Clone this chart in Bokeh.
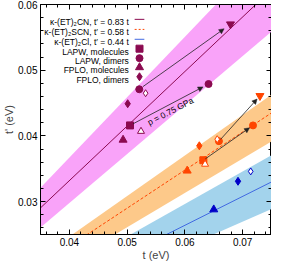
import math
from bokeh.plotting import figure
from bokeh.models import Range1d, FixedTicker, LinearAxis, Label, Arrow, NormalHead
from bokeh.embed import file_html
from bokeh.resources import INLINE

# ---------------- data ----------------
x_ticks = [0.04, 0.05, 0.06, 0.07]
y_ticks = [0.03, 0.04, 0.05, 0.06]
x_minor = [0.036, 0.038, 0.042, 0.044, 0.046, 0.048, 0.052, 0.054, 0.056, 0.058,
           0.062, 0.064, 0.066, 0.068, 0.072, 0.074]
y_minor = [0.026, 0.028, 0.032, 0.034, 0.036, 0.038, 0.042, 0.044, 0.046, 0.048,
           0.052, 0.054, 0.056, 0.058]
x_lim = [0.035, 0.075]
y_lim = [0.025, 0.06]

salts = ["κ-(ET)₂CN", "κ-(ET)₂SCN", "κ-(ET)₂Cl"]
slopes = [0.83, 0.58, 0.44]
band_lo = [0.745, 0.522, 0.385]
band_hi = [0.918, 0.617, 0.494]

methods = ["LAPW, molecules", "LAPW, dimers", "FPLO, molecules", "FPLO, dimers"]

# ambient-pressure results (LAPW mol, LAPW dim, FPLO mol, FPLO dim)
cn_t = [0.0505, 0.0521, 0.0493, 0.0501]
cn_tp = [0.0416, 0.0471, 0.0394, 0.0449]
scn_t = [0.0632, 0.0659, 0.0604, 0.0625]
scn_tp = [0.0363, 0.0392, 0.0347, 0.0385]
cl_t = [None, None, 0.0650, 0.0692]
cl_tp = [None, None, 0.0288, 0.0331]

# alternative (open symbols): FPLO molecules, FPLO dimers
cn_open_t = [0.0524, 0.0532]
cn_open_tp = [0.0407, 0.0465]
scn_open_t = [0.0635, 0.0656]
scn_open_tp = [0.0357, 0.0395]
cl_open_t = [None, 0.0714]
cl_open_tp = [None, 0.0346]

# under pressure p = 0.75 GPa (LAPW molecules -> circle, LAPW dimers -> down triangle)
cn_p_t = [0.0641, 0.0679]
cn_p_tp = [0.0479, 0.0570]
scn_p_t = [0.0718, 0.0730]
scn_p_tp = [0.0416, 0.0461]

pressure_label = "p = 0.75 GPa"

# ---------------- style ----------------
line_cols = ["#8b0a50", "#ff4500", "#4169e1"]
mark_cols = ["#8b0a50", "#ff4500", "#0000c8"]
band_cols = ["#f9a3f9", "#fdc98a", "#a3d3ec"]
markers = ["square", "circle", "triangle", "diamond"]
msizes = [7, 7, 8, 8]
FONT = "Liberation Sans"

p = figure(width=271, height=263, output_backend="svg", toolbar_location=None,
           x_range=Range1d(*x_lim), y_range=Range1d(*y_lim),
           min_border_left=30, min_border_right=0, min_border_top=4, min_border_bottom=0)
p.grid.visible = False
p.outline_line_color = "black"
p.outline_line_width = 1
p.background_fill_color = "white"

def style_axis(ax, labels=True):
    ax.major_tick_in = 5
    ax.major_tick_out = 0
    ax.minor_tick_in = 3
    ax.minor_tick_out = 0
    ax.axis_line_color = "black"
    ax.major_tick_line_color = "black"
    ax.minor_tick_line_color = "black"
    ax.major_label_text_font = FONT
    if labels:
        ax.major_label_text_font_size = "10px"
        ax.major_label_text_color = "black"
        ax.major_label_standoff = 3
    else:
        ax.major_label_text_font_size = "0px"
        ax.major_label_text_color = None
        ax.major_label_standoff = 0
    ax.axis_label_text_font = FONT
    ax.axis_label_text_font_size = "11px"
    ax.axis_label_text_font_style = "normal"
    ax.axis_label_standoff = 0

p.xaxis.ticker = FixedTicker(ticks=x_ticks, minor_ticks=x_minor)
p.yaxis.ticker = FixedTicker(ticks=y_ticks, minor_ticks=y_minor)
p.xaxis.axis_label = "t (eV)"
p.yaxis.axis_label = "t' (eV)"
for ax in p.xaxis + p.yaxis:
    style_axis(ax)
top = LinearAxis(ticker=FixedTicker(ticks=x_ticks, minor_ticks=x_minor))
right = LinearAxis(ticker=FixedTicker(ticks=y_ticks, minor_ticks=y_minor))
style_axis(top, False)
style_axis(right, False)
p.add_layout(top, "above")
p.add_layout(right, "right")

# bands and fitted lines
for lo, hi, bc in zip(band_lo, band_hi, band_cols):
    xs = x_lim
    p.varea(x=xs, y1=[lo * v for v in xs], y2=[hi * v for v in xs], fill_color=bc)
for i, (k, lc) in enumerate(zip(slopes, line_cols)):
    xs = x_lim
    p.line(x=xs, y=[k * v for v in xs], line_color=lc, line_width=1,
           line_dash="3 2" if i == 1 else "solid")

# arrows
def arrow(x0, y0, x1, y1):
    sx = x0 + (x1 - x0) * 0.04
    sy = y0 + (y1 - y0) * 0.04
    ex = x0 + (x1 - x0) * 0.93
    ey = y0 + (y1 - y0) * 0.93
    p.add_layout(Arrow(end=NormalHead(size=5, fill_color="#222222", line_color="#222222", line_width=0.5),
                       x_start=sx, y_start=sy, x_end=ex, y_end=ey,
                       line_color="#222222", line_width=0.8))

for (t, tp, pt, ptp) in [(cn_t, cn_tp, cn_p_t, cn_p_tp), (scn_t, scn_tp, scn_p_t, scn_p_tp)]:
    arrow(t[0], tp[0], pt[0], ptp[0])
    arrow(t[1], tp[1], pt[1], ptp[1])

# markers
groups = [(cn_t, cn_tp, cn_open_t, cn_open_tp, cn_p_t, cn_p_tp),
          (scn_t, scn_tp, scn_open_t, scn_open_tp, scn_p_t, scn_p_tp),
          (cl_t, cl_tp, cl_open_t, cl_open_tp, None, None)]
for gi, (t, tp, ot, otp, pt, ptp) in enumerate(groups):
    col = mark_cols[gi]
    for mi in range(4):
        if t[mi] is None:
            continue
        p.scatter(x=[t[mi]], y=[tp[mi]], marker=markers[mi], size=msizes[mi],
                  fill_color=col, line_color=col)
    for oi in range(2):
        if ot[oi] is None:
            continue
        p.scatter(x=[ot[oi]], y=[otp[oi]], marker=markers[2 + oi], size=msizes[2 + oi] - 1,
                  fill_color="white", line_color=col, line_width=1)
    if pt is not None:
        p.scatter(x=[pt[0]], y=[ptp[0]], marker="circle", size=7, fill_color=col, line_color=col)
        p.scatter(x=[pt[1]], y=[ptp[1]], marker="inverted_triangle", size=8, fill_color=col, line_color=col)

# pressure label along the arrow
mx = (cn_t[0] + cn_p_t[0]) / 2
my = (cn_tp[0] + cn_p_tp[0]) / 2
p.add_layout(Label(x=mx + 0.0002, y=my - 0.0010, text=pressure_label, angle=0.48,
                   text_font=FONT, text_font_size="8.5px", text_align="center",
                   text_baseline="middle", text_color="black"))

# legend (text right-aligned, sample at right) positioned relative to reference pixels
def rx(px):
    return x_lim[0] + (px - 43) / 238 * (x_lim[1] - x_lim[0])

def ry(py):
    return y_lim[1] - (py - 9) / 240 * (y_lim[1] - y_lim[0])

rows = [24.5, 35, 45.3, 55.1, 65, 74.6, 84.4]
legend_texts = [f"{s}, t′ = {k:.2f} t" for s, k in zip(salts, slopes)] + methods
for i, txt in enumerate(legend_texts):
    p.add_layout(Label(x=rx(134), y=ry(rows[i] + 3.2), text=txt, text_font=FONT, text_font_size="8.5px",
                       text_align="right", text_baseline="alphabetic", text_color="black"))
for i in range(3):
    p.line(x=[rx(140), rx(150)], y=[ry(rows[i])] * 2, line_color=line_cols[i], line_width=1,
           line_dash="2 2" if i == 1 else "solid")
for mi in range(4):
    p.scatter(x=[rx(145)], y=[ry(rows[3 + mi])], marker=markers[mi], size=msizes[mi],
              fill_color=mark_cols[0], line_color=mark_cols[0])

open("out.html", "w").write(file_html(p, INLINE))
